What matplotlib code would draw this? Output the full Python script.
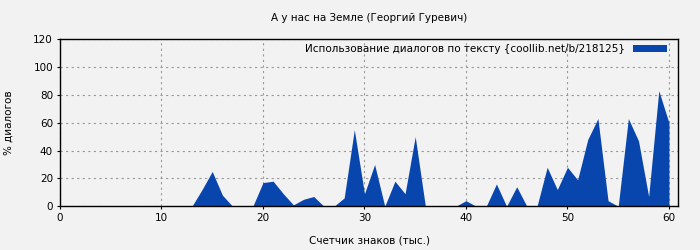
import matplotlib
matplotlib.use("Agg")
import matplotlib.pyplot as plt

# chart data
chunks = list(range(0, 61))
dialog_pct = [0, 0, 0, 0, 0, 0, 0, 0, 0, 0,
              0, 0, 0, 0, 12, 25, 8, 0, 0, 0,
              17, 18, 9, 1, 5, 7, 0, 0, 6, 55,
              9, 30, 0, 18, 9, 50, 0, 0, 0, 0,
              4, 0, 0, 16, 0, 14, 0, 0, 28, 12,
              28, 19, 48, 63, 4, 0, 63, 47, 7, 83,
              60]
x_ticks = [0, 10, 20, 30, 40, 50, 60]
y_ticks = [0, 20, 40, 60, 80, 100, 120]

title = "А у нас на Земле (Георгий Гуревич)"
series_name = "Использование диалогов по тексту {coollib.net/b/218125}"
x_label = "Счетчик знаков (тыс.)"
y_label = "% диалогов"

bg = "#f2f2f2"
fill = "#0846ae"

plt.rcParams["font.family"] = ["DejaVu Sans"]
plt.rcParams["font.size"] = 7.5

fig = plt.figure(figsize=(7, 2.5), dpi=100, facecolor=bg)
ax = fig.add_axes([0.0857, 0.175, 0.883, 0.668])
ax.set_facecolor(bg)

ax.fill_between(chunks, dialog_pct, 0, color=fill, linewidth=0, label=series_name)

ax.set_xlim(0, 60.9)
ax.set_ylim(0, 120)
ax.set_xticks(x_ticks)
ax.set_yticks(y_ticks)
ax.tick_params(direction="out", length=2, width=0.8, colors="black", pad=3)
ax.grid(True, linestyle=(0, (2, 3)), color="#999999", linewidth=0.8)
ax.set_axisbelow(True)
for s in ax.spines.values():
    s.set_linewidth(1.0)
    s.set_color("black")

ax.set_title(title, fontsize=7.5, pad=13)
ax.set_xlabel(x_label, labelpad=9)
ax.set_ylabel(y_label, labelpad=14)

ax.legend(loc="upper right", frameon=False, markerfirst=False,
          handlelength=3.2, handleheight=0.6, borderaxespad=0.1,
          bbox_to_anchor=(0.99, 1.0), fontsize=7.5)

fig.savefig("out.png", dpi=100, facecolor=bg)
